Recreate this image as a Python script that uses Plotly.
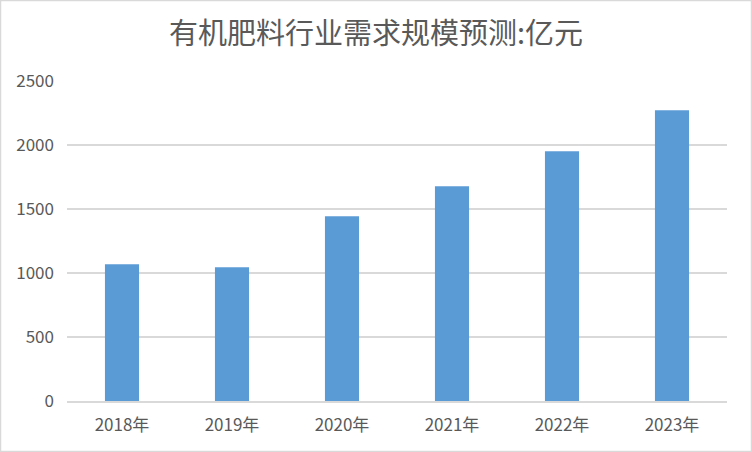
import plotly.graph_objects as go

years = ['2018年', '2019年', '2020年', '2021年', '2022年', '2023年']
demand = [1068, 1045, 1443, 1677, 1951, 2271]
y_ticks = [0, 500, 1000, 1500, 2000, 2500]

W, H = 752, 452
ml, mr, mt, mb = 67, 25, 81, 51
pw, ph = W - ml - mr, H - mt - mb

fig = go.Figure()

fig.add_trace(go.Bar(
    x=years, y=demand,
    marker=dict(color='#5B9BD5', line=dict(width=0)),
    hoverinfo='x+y'
))

# outer frame around the whole chart
fig.add_shape(
    type='rect', xref='paper', yref='paper',
    x0=(0.5 - ml) / pw, x1=(W - 0.5 - ml) / pw,
    y0=-(mb - 0.5) / ph, y1=1 + (mt - 0.5) / ph,
    line=dict(color='#D9D9D9', width=1.5),
    layer='below'
)

fig.update_layout(
    title=dict(
        text='有机肥料行业需求规模预测:亿元',
        font=dict(family='Noto Sans CJK SC', size=29, color='#595959'),
        x=0.5, xref='container', xanchor='center',
        y=1 - 34 / H, yref='container', yanchor='middle'
    ),
    xaxis=dict(
        showgrid=False,
        showline=True, linecolor='#D9D9D9', linewidth=1.5,
        ticks='',
        ticklabelstandoff=8,
        tickfont=dict(family='Noto Sans CJK SC', size=17, color='#595959'),
    ),
    yaxis=dict(
        range=[0, 2500],
        tickvals=y_ticks,
        showgrid=True, gridcolor='#D9D9D9', gridwidth=1.5,
        zeroline=False, showline=False,
        ticks='',
        ticklabelstandoff=12,
        tickfont=dict(family='Noto Sans CJK SC', size=17, color='#595959'),
    ),
    bargap=0.69,
    showlegend=False,
    plot_bgcolor='white',
    paper_bgcolor='white',
    width=W, height=H,
    margin=dict(l=ml, r=mr, t=mt, b=mb),
)

fig.write_html('out.html', config={'displayModeBar': False},
               post_script="document.body.style.margin='0';")
